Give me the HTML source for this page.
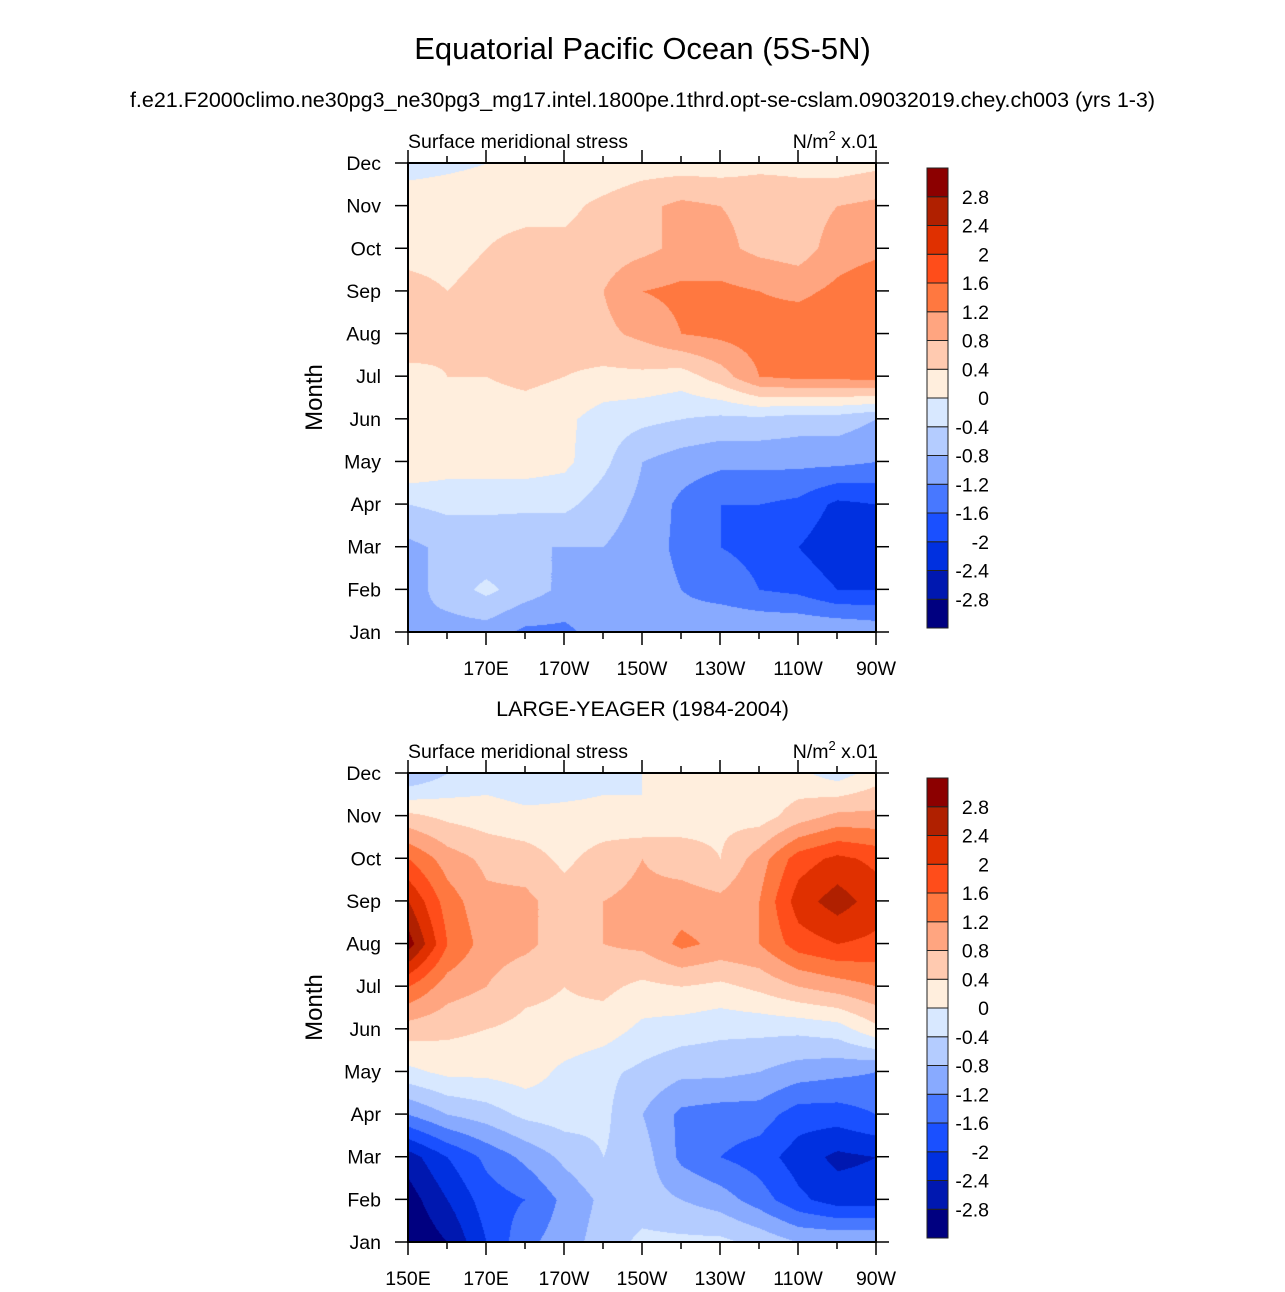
<!DOCTYPE html>
<html><head><meta charset="utf-8"><style>
body{margin:0;background:#fff;width:1285px;height:1292px;position:relative;overflow:hidden;font-family:"Liberation Sans",sans-serif;color:#000}
.t{position:absolute;white-space:nowrap}
</style></head><body>
<div class="t" style="left:0;width:1285px;text-align:center;top:31px;font-size:31px">Equatorial Pacific Ocean (5S-5N)</div>
<div class="t" style="left:0;width:1285px;text-align:center;top:88px;font-size:21.5px">f.e21.F2000climo.ne30pg3_ne30pg3_mg17.intel.1800pe.1thrd.opt-se-cslam.09032019.chey.ch003 (yrs 1-3)</div>
<div class="t" style="left:0;width:1285px;text-align:center;top:697px;font-size:21.5px">LARGE-YEAGER (1984-2004)</div>
<div id="root"></div>
<script>
const months=["Jan","Feb","Mar","Apr","May","Jun","Jul","Aug","Sep","Oct","Nov","Dec"];
const lons=[150,160,170,180,190,200,210,220,230,240,250,260,270];
const xTickLabels=["150E","170E","170W","150W","130W","110W","90W"];
const xTickLons=[150,170,190,210,230,250,270];
const levels=[-2.8,-2.4,-2,-1.6,-1.2,-0.8,-0.4,0,0.4,0.8,1.2,1.6,2,2.4,2.8];
const levelLabels=["-2.8","-2.4","-2","-1.6","-1.2","-0.8","-0.4","0","0.4","0.8","1.2","1.6","2","2.4","2.8"];
const colors=["#000080","#0018b0","#0030e0","#1a50ff","#4878ff","#88aaff","#b4ccff","#d8e8ff","#ffeedd","#ffcab0","#ffa580","#ff7840","#ff4d1a","#e03000","#b02000","#8c0000"];
const modelData=[
[-0.8,-1.0,-1.0,-1.3,-1.3,-1.0,-1.0,-1.0,-0.8,-0.8,-0.8,-0.8,-0.9],
[-1.0,-0.6,-0.3,-0.6,-0.9,-1.0,-1.0,-1.2,-1.4,-1.6,-1.7,-2.0,-2.0],
[-0.9,-0.7,-0.7,-0.8,-0.8,-0.8,-1.0,-1.3,-1.6,-1.7,-2.0,-2.3,-2.4],
[-0.4,-0.3,-0.3,-0.3,-0.3,-0.6,-0.9,-1.3,-1.6,-1.6,-1.7,-2.1,-2.0],
[0.4,0.2,0.2,0.2,0.1,-0.3,-0.8,-1.0,-1.1,-1.1,-1.1,-1.1,-1.2],
[0.4,0.2,0.2,0.2,0.1,-0.2,-0.3,-0.4,-0.5,-0.5,-0.6,-0.6,-0.8],
[0.2,0.4,0.4,0.5,0.4,0.3,0.3,0.2,0.6,1.2,1.3,1.3,1.4],
[0.8,0.5,0.6,0.6,0.6,0.7,0.9,1.2,1.3,1.4,1.5,1.5,1.5],
[0.5,0.4,0.5,0.6,0.7,0.8,1.2,1.3,1.3,1.2,1.1,1.3,1.5],
[0.3,0.3,0.4,0.5,0.5,0.6,0.7,0.9,0.9,0.7,0.6,1.0,1.1],
[0.3,0.3,0.3,0.3,0.3,0.5,0.7,0.9,0.8,0.7,0.6,0.8,0.9],
[-0.2,-0.1,0.0,0.1,0.1,0.1,0.2,0.2,0.2,0.3,0.3,0.2,0.3]];
const obsData=[
[-3.2,-2.8,-2.0,-1.3,-1.0,-0.6,-0.3,-0.3,-0.3,-0.5,-0.8,-0.8,-0.8],
[-3.0,-2.4,-1.8,-1.6,-1.1,-0.7,-0.6,-0.8,-1.0,-1.4,-1.9,-2.2,-2.2],
[-2.6,-2.0,-1.5,-1.1,-0.7,-0.4,-0.6,-1.3,-1.6,-1.8,-2.2,-2.5,-2.4],
[-1.2,-0.8,-0.6,-0.3,-0.2,-0.3,-0.8,-1.3,-1.4,-1.4,-1.8,-1.8,-1.6],
[-0.1,0.1,0.1,0.2,-0.1,-0.3,-0.5,-0.7,-0.7,-0.8,-1.0,-1.1,-1.2],
[0.6,0.5,0.4,0.3,0.3,0.2,-0.1,-0.2,-0.3,-0.3,-0.3,-0.2,0.3],
[1.6,1.0,0.8,0.5,0.4,0.5,0.3,0.4,0.3,0.5,0.8,1.0,1.2],
[3.0,1.6,1.0,0.9,0.6,0.8,0.9,1.3,1.1,1.2,1.8,2.0,1.9],
[2.4,1.4,0.9,0.9,0.6,0.8,0.9,1.0,0.9,1.2,2.2,2.6,2.2],
[1.6,1.0,0.7,0.6,0.3,0.6,0.8,0.6,0.4,1.0,1.8,2.1,1.9],
[0.5,0.3,0.2,0.1,0.1,0.1,0.0,0.2,0.3,0.2,0.6,0.9,0.9],
[-0.8,-0.4,-0.2,-0.3,-0.2,-0.1,0.0,0.3,0.3,0.1,0.1,-0.2,0.2]];

const root=document.getElementById('root');
const NS="http://www.w3.org/2000/svg";
function hex(c){return[parseInt(c.substr(1,2),16),parseInt(c.substr(3,2),16),parseInt(c.substr(5,2),16)];}
const rgb=colors.map(hex);
function colorIndex(v){let i=0;while(i<levels.length&&v>=levels[i])i++;return i;}
function txt(svg,x,y,s,size,anchor,name){const t=document.createElementNS(NS,'text');t.setAttribute('x',x);t.setAttribute('y',y);t.setAttribute('font-size',size);t.setAttribute('text-anchor',anchor||'start');t.setAttribute('font-family','Liberation Sans, sans-serif');t.textContent=s;


svg.appendChild(t);return t;}
function line(svg,x1,y1,x2,y2,w,name){const l=document.createElementNS(NS,'line');l.setAttribute('x1',x1);l.setAttribute('y1',y1);l.setAttribute('x2',x2);l.setAttribute('y2',y2);l.setAttribute('stroke','#000');l.setAttribute('stroke-width',w||1.5);


svg.appendChild(l);}

function panel(data,top,showFirstX,pname){
  const L=408,W=468,H=469;
  const xs=lon=>L+(lon-150)/120*W;
  const ys=m=>top+H-m/11*H;
  const cv=document.createElement('canvas');cv.width=W;cv.height=H;
  cv.style.cssText=`position:absolute;left:${L}px;top:${top}px`;
  
  
  root.appendChild(cv);
  const ctx=cv.getContext('2d');const img=ctx.createImageData(W,H);
  for(let py=0;py<H;py++){const m=(H-py)/H*11;const j=Math.min(10,Math.floor(m));const fy=m-j;
    for(let px=0;px<W;px++){const g=px/W*12;const i=Math.min(11,Math.floor(g));const fx=g-i;
      const v=(data[j][i]*(1-fx)+data[j][i+1]*fx)*(1-fy)+(data[j+1][i]*(1-fx)+data[j+1][i+1]*fx)*fy;
      const c=rgb[colorIndex(v)];const k=(py*W+px)*4;img.data[k]=c[0];img.data[k+1]=c[1];img.data[k+2]=c[2];img.data[k+3]=255;}}
  ctx.putImageData(img,0,0);
  const svg=document.createElementNS(NS,'svg');svg.setAttribute('width',1285);svg.setAttribute('height',1292);
  svg.style.cssText='position:absolute;left:0;top:0';
  
  
  root.appendChild(svg);
  const r=document.createElementNS(NS,'rect');r.setAttribute('x',L);r.setAttribute('y',top);r.setAttribute('width',W);r.setAttribute('height',H);r.setAttribute('fill','none');r.setAttribute('stroke','#000');r.setAttribute('stroke-width',2);
  
  
  svg.appendChild(r);
  months.forEach((m,k)=>{const y=ys(k);line(svg,L-13,y,L,y,1.5,'y-tick');line(svg,L+W,y,L+W+13,y,1.5,'y-tick');
    txt(svg,381,y+7,m,19.5,'end','y-tick-label');});
  lons.forEach(lon=>{const x=xs(lon);const major=(lon-150)%20===0;const len=major?13:7;
    line(svg,x,top+H,x,top+H+len,1.5,'x-tick');line(svg,x,top-len,x,top,1.5,'x-tick');});
  xTickLabels.forEach((s,k)=>{if(k===0&&!showFirstX)return;txt(svg,xs(xTickLons[k]),top+H+43,s,19.5,'middle','x-tick-label');});
  const yt=txt(svg,0,0,'Month',24,'middle','y-axis-title');yt.setAttribute('transform',`translate(322,${top+H/2}) rotate(-90)`);
  txt(svg,L,top-15,'Surface meridional stress',19.5,'start','panel-left-string');
  const u=txt(svg,L+W+2,top-15,'',19.5,'end','units-label');u.innerHTML='N/m<tspan dy="-8" font-size="13">2</tspan><tspan dy="8"> x.01</tspan>';
  const cbT=top+5,cbH=460,bh=cbH/colors.length;
  colors.forEach((c,k)=>{const b=document.createElementNS(NS,'rect');b.setAttribute('x',927);b.setAttribute('y',cbT+cbH-(k+1)*bh);b.setAttribute('width',21);b.setAttribute('height',bh);b.setAttribute('fill',c);b.setAttribute('stroke','#222');b.setAttribute('stroke-width',1);
    
    
    svg.appendChild(b);});
  levelLabels.forEach((s,k)=>{txt(svg,989,cbT+cbH-(k+1)*bh+7,s,19.5,'end','colorbar-label');});
}
panel(modelData,163,false,'model-panel');
panel(obsData,773,true,'obs-panel');
</script>
</body></html>
